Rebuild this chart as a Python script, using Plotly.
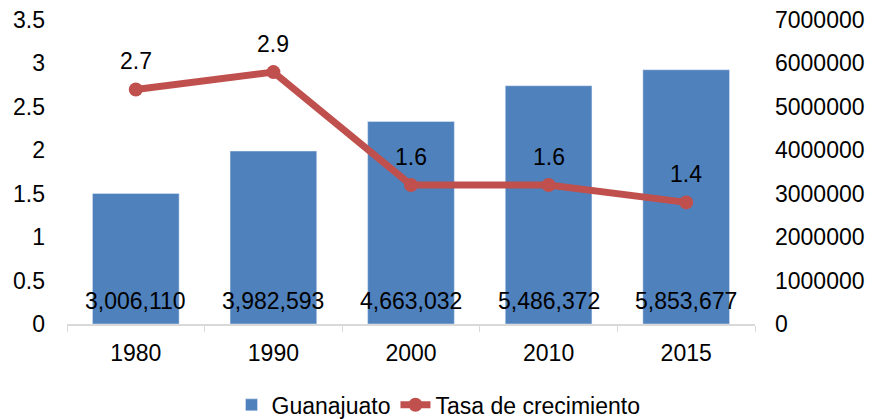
import plotly.graph_objects as go

years = ['1980', '1990', '2000', '2010', '2015']
poblacion = [3006110, 3982593, 4663032, 5486372, 5853677]
tasa = [2.7, 2.9, 1.6, 1.6, 1.4]
tasa_labels = ['2.7', '2.9', '1.6', '1.6', '1.4']

font_family = "Liberation Sans, Arial, sans-serif"
fsize = 23

fig = go.Figure()

# Barras de población (eje derecho)
fig.add_trace(go.Bar(
    x=years, y=poblacion,
    name='Guanajuato',
    yaxis='y',
    marker=dict(color='#4F81BD'),
))

# Línea de tasa de crecimiento (eje izquierdo, encima de las barras)
fig.add_trace(go.Scatter(
    x=years, y=tasa,
    name='Tasa de crecimiento',
    yaxis='y2',
    mode='lines+markers',
    line=dict(color='#C0504D', width=7),
    marker=dict(color='#C0504D', size=14),
))

# Etiquetas de población, abajo dentro de cada barra
for i, v in enumerate(poblacion):
    fig.add_annotation(
        x=i, y=0, xref='x', yref='y', text=f"{v:,}", showarrow=False,
        yshift=23, font=dict(size=fsize, color='black', family=font_family),
    )

# Etiquetas de la tasa (x = índice de categoría)
for i, (t, lab) in enumerate(zip(tasa, tasa_labels)):
    fig.add_annotation(
        x=i, y=t, xref='x', yref='y2', text=lab, showarrow=False,
        yshift=28, font=dict(size=fsize, color='black', family=font_family),
    )

fig.update_layout(
    width=873, height=419,
    margin=dict(l=67, r=118, t=20, b=95, autoexpand=False),
    plot_bgcolor='white', paper_bgcolor='white',
    font=dict(family=font_family, size=fsize, color='black'),
    bargap=0.37,
    showlegend=True,
    legend=dict(orientation='h', x=0.54, xanchor='center', y=-0.266, yanchor='middle',
                font=dict(size=fsize), traceorder='normal'),
    xaxis=dict(type='category', range=[-0.5, len(years) - 0.5],
               showline=True, linecolor='#D9D9D9', linewidth=1.5,
               ticks='outside', tickson='boundaries', ticklen=6, tickcolor='#D9D9D9',
               ticklabelstandoff=8, showgrid=False),
    yaxis=dict(range=[0, 7000000], dtick=1000000, side='right',
               showgrid=False, zeroline=False, showline=False, ticks='',
               tickformat='d', ticklabelstandoff=19, ticklabeloverflow='allow'),
    yaxis2=dict(range=[0, 3.5], dtick=0.5, overlaying='y', side='left',
                showgrid=False, zeroline=False, showline=False, ticks='',
                ticklabelstandoff=21, ticklabeloverflow='allow'),
)

# quitar el margen por defecto del body para que la figura empiece en (0, 0)
fig.write_html("out.html", config={'displayModeBar': False},
               post_script="document.body.style.margin='0';")
